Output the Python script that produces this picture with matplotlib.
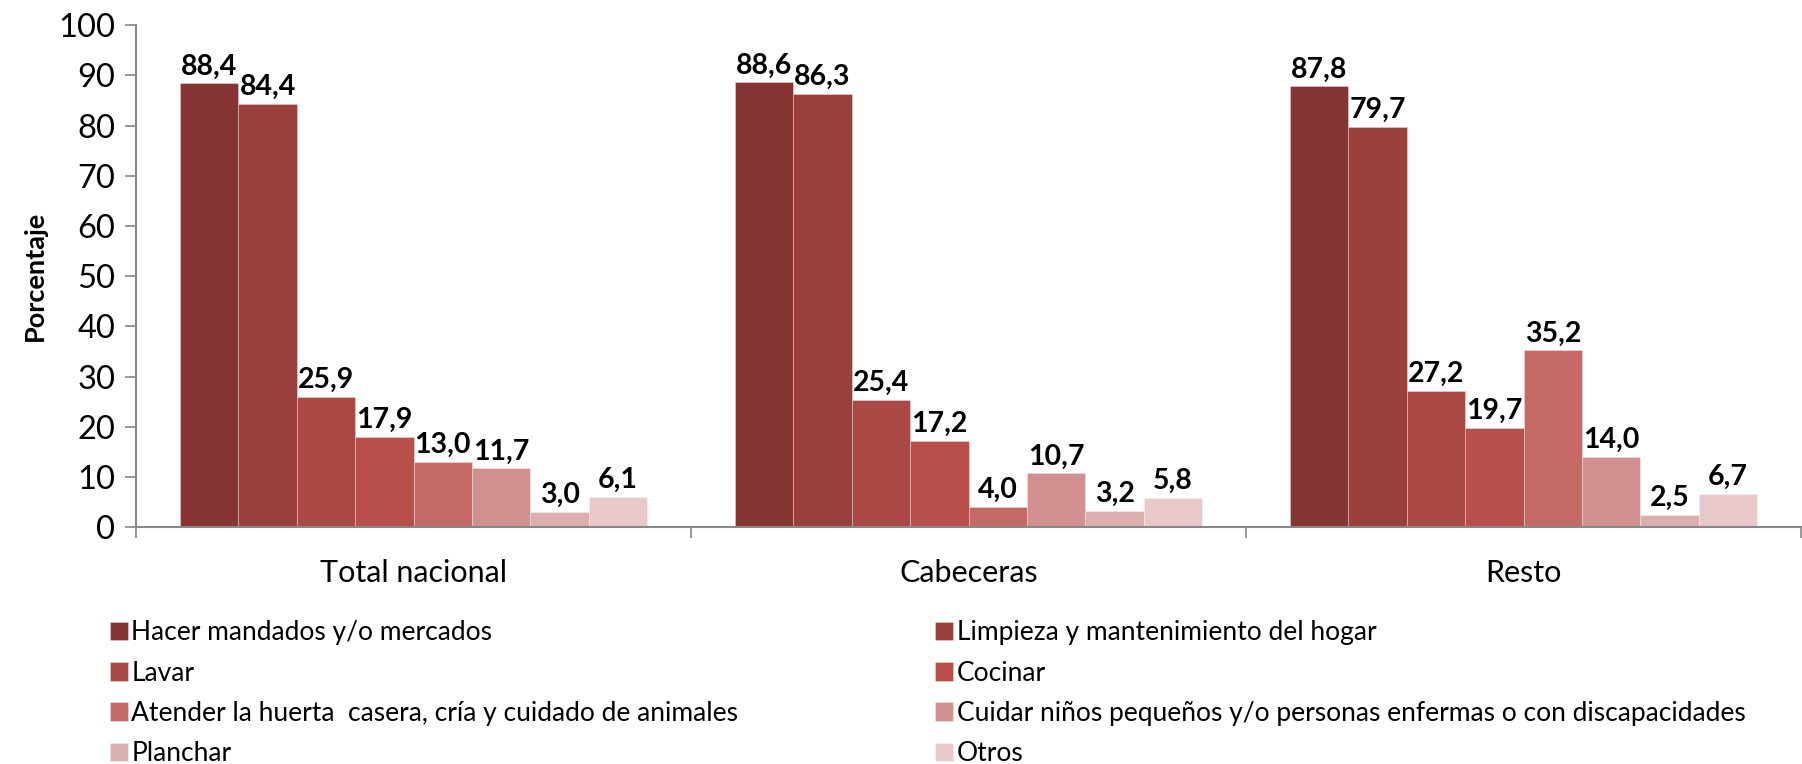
import matplotlib
matplotlib.use('Agg')
import matplotlib.pyplot as plt
import numpy as np

# Data
groups = ['Total nacional', 'Cabeceras', 'Resto']
series = [
    'Hacer mandados y/o mercados',
    'Limpieza y mantenimiento del hogar',
    'Lavar',
    'Cocinar',
    'Atender la huerta  casera, cría y cuidado de animales',
    'Cuidar niños pequeños y/o personas enfermas o con discapacidades',
    'Planchar',
    'Otros',
]
mandados = [88.4, 88.6, 87.8]
limpieza = [84.4, 86.3, 79.7]
lavar = [25.9, 25.4, 27.2]
cocinar = [17.9, 17.2, 19.7]
huerta = [13.0, 4.0, 35.2]
cuidar = [11.7, 10.7, 14.0]
planchar = [3.0, 3.2, 2.5]
otros = [6.1, 5.8, 6.7]
values = [mandados, limpieza, lavar, cocinar, huerta, cuidar, planchar, otros]

colors = ['#863533', '#9a3f3c', '#a94845', '#b94f4b',
          '#c56966', '#d29190', '#ddaeae', '#e8c8c8']

plt.rcParams['font.family'] = ['Lato', 'DejaVu Sans']

fig = plt.figure(figsize=(18.02, 7.64), dpi=100)
ax = fig.add_axes([0.0755, 0.310, 0.9240, 0.657])

n = len(series)
width = 1 / (n + 1.5)
x = np.arange(len(groups))
handles = []
for i, (vals, col) in enumerate(zip(values, colors)):
    pos = x + (i - (n - 1) / 2) * width
    b = ax.bar(pos, vals, width, color=col, edgecolor=(1, 1, 1, 0.35), linewidth=0.6)
    handles.append(b)
    for p, v in zip(pos, vals):
        ax.text(p, v + 0.8, f'{v:.1f}'.replace('.', ','), ha='center', va='bottom',
                fontsize=20.5, fontweight='bold', color='black')

ax.set_xlim(-0.5, 2.5)
ax.set_ylim(0, 100)
ax.set_yticks(range(0, 101, 10))
ax.tick_params(axis='y', labelsize=23.5, length=8, width=1.2, color='#888888', pad=7)
ax.set_xticks([-0.5, 0.5, 1.5, 2.5])
ax.set_xticklabels([])
ax.tick_params(axis='x', length=8, width=1.2, color='#888888')
for g, xc in zip(groups, x):
    ax.text(xc, -6.3, g, ha='center', va='top', fontsize=22)

for s in ['top', 'right']:
    ax.spines[s].set_visible(False)
for s in ['left', 'bottom']:
    ax.spines[s].set_color('#888888')
    ax.spines[s].set_linewidth(1.5)

ax.set_ylabel('Porcentaje', fontsize=19.5, fontweight='bold', labelpad=8)

# Legend in two columns placed by hand
legend_font = {'size': 19}
leg_kw = dict(loc='upper left', frameon=False, prop=legend_font,
              handlelength=0.7, handleheight=0.7, handletextpad=0.12,
              labelspacing=0.58, borderaxespad=0)
fig.legend([handles[i] for i in (0, 2, 4, 6)], [series[i] for i in (0, 2, 4, 6)],
           bbox_to_anchor=(0.055, 0.202), **leg_kw)
fig.legend([handles[i] for i in (1, 3, 5, 7)], [series[i] for i in (1, 3, 5, 7)],
           bbox_to_anchor=(0.513, 0.202), **leg_kw)

fig.savefig('out.png', dpi=100, facecolor='white')
